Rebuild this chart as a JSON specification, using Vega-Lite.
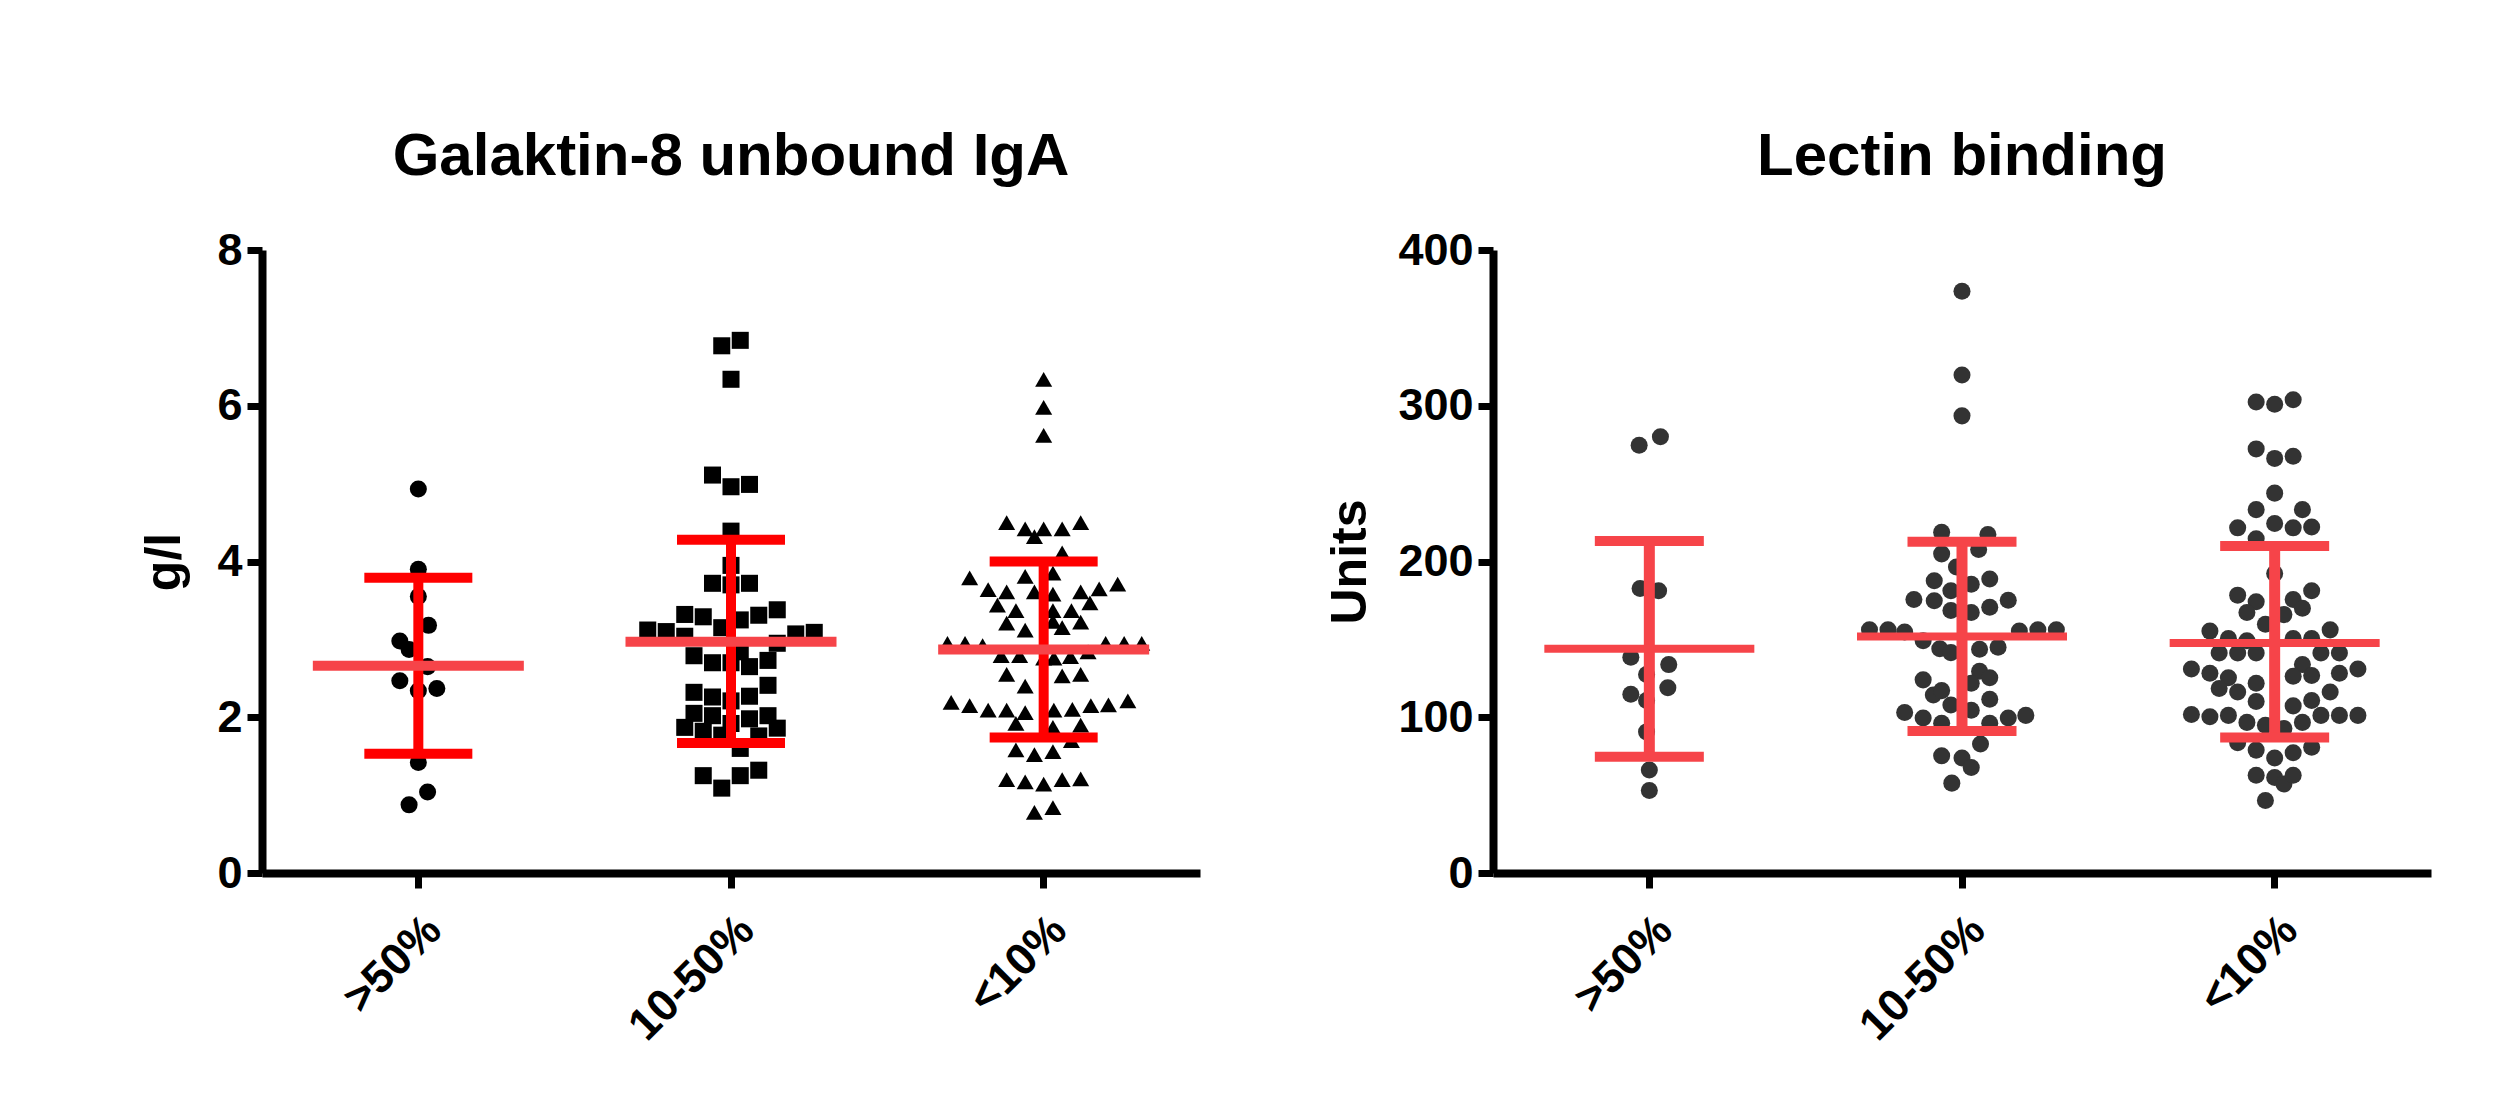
{
  "$schema": "https://vega.github.io/schema/vega-lite/v6.json",
  "background": "white",
  "padding": {"left": 139, "top": 127, "right": 5, "bottom": 5},
  "bounds": "flush",
  "spacing": 293,
  "config": {
    "font": "Liberation Sans",
    "view": {"stroke": null},
    "title": {"fontSize": 60, "fontWeight": "bold", "color": "black", "font": "Liberation Sans", "anchor": "middle", "offset": 40},
    "axis": {
      "grid": false,
      "domainColor": "black", "domainWidth": 8,
      "tickColor": "black", "tickWidth": 7, "tickSize": 15,
      "labelColor": "black", "labelFontSize": 45, "labelFontWeight": "bold", "labelFont": "Liberation Sans",
      "titleColor": "black", "titleFontSize": 50, "titleFontWeight": "bold", "titleFont": "Liberation Sans"
    },
    "axisY": {"labelPadding": 5, "titlePadding": 25, "format": "d"},
    "axisX": {"labelAngle": -45, "labelAlign": "right", "labelBaseline": "top", "labelPadding": 19, "title": null}
  },
  "datasets": {
    "gal": [
      {"g": ">50%", "v": 4.93, "s": 0}, {"g": ">50%", "v": 3.90, "s": 0}, {"g": ">50%", "v": 3.55, "s": 0},
      {"g": ">50%", "v": 3.18, "s": 0.55}, {"g": ">50%", "v": 2.98, "s": -1}, {"g": ">50%", "v": 2.87, "s": -0.5},
      {"g": ">50%", "v": 2.65, "s": 0.5}, {"g": ">50%", "v": 2.47, "s": -1}, {"g": ">50%", "v": 2.34, "s": 0},
      {"g": ">50%", "v": 2.37, "s": 1}, {"g": ">50%", "v": 1.42, "s": 0}, {"g": ">50%", "v": 1.04, "s": 0.5},
      {"g": ">50%", "v": 0.875, "s": -0.5},
      {"g": "10-50%", "v": 6.77, "s": -0.5}, {"g": "10-50%", "v": 6.84, "s": 0.5}, {"g": "10-50%", "v": 6.34, "s": 0},
      {"g": "10-50%", "v": 5.11, "s": -1}, {"g": "10-50%", "v": 4.96, "s": 0}, {"g": "10-50%", "v": 4.99, "s": 1},
      {"g": "10-50%", "v": 4.39, "s": 0}, {"g": "10-50%", "v": 3.95, "s": 0}, {"g": "10-50%", "v": 3.72, "s": -1},
      {"g": "10-50%", "v": 3.70, "s": 0}, {"g": "10-50%", "v": 3.72, "s": 1}, {"g": "10-50%", "v": 3.32, "s": -2.5},
      {"g": "10-50%", "v": 3.29, "s": -1.5}, {"g": "10-50%", "v": 3.15, "s": -0.5}, {"g": "10-50%", "v": 3.25, "s": 0.5},
      {"g": "10-50%", "v": 3.31, "s": 1.5}, {"g": "10-50%", "v": 3.38, "s": 2.5}, {"g": "10-50%", "v": 3.12, "s": -4.5},
      {"g": "10-50%", "v": 3.10, "s": -3.5}, {"g": "10-50%", "v": 3.04, "s": -2.5}, {"g": "10-50%", "v": 3.07, "s": 3.5},
      {"g": "10-50%", "v": 3.09, "s": 4.5}, {"g": "10-50%", "v": 2.95, "s": 2.5}, {"g": "10-50%", "v": 2.79, "s": -2},
      {"g": "10-50%", "v": 2.70, "s": -1}, {"g": "10-50%", "v": 2.84, "s": 0.5}, {"g": "10-50%", "v": 2.65, "s": 1},
      {"g": "10-50%", "v": 2.73, "s": 2}, {"g": "10-50%", "v": 2.70, "s": 0}, {"g": "10-50%", "v": 2.41, "s": 2},
      {"g": "10-50%", "v": 2.32, "s": -2}, {"g": "10-50%", "v": 2.26, "s": -1}, {"g": "10-50%", "v": 2.21, "s": 0},
      {"g": "10-50%", "v": 2.27, "s": 1}, {"g": "10-50%", "v": 2.05, "s": -2}, {"g": "10-50%", "v": 2.02, "s": -1},
      {"g": "10-50%", "v": 1.98, "s": 1}, {"g": "10-50%", "v": 2.02, "s": 2}, {"g": "10-50%", "v": 1.87, "s": -2.5},
      {"g": "10-50%", "v": 1.82, "s": -1.5}, {"g": "10-50%", "v": 1.92, "s": 0}, {"g": "10-50%", "v": 1.86, "s": 2.5},
      {"g": "10-50%", "v": 1.76, "s": 1.5}, {"g": "10-50%", "v": 1.77, "s": -0.5}, {"g": "10-50%", "v": 1.60, "s": 0.5},
      {"g": "10-50%", "v": 1.25, "s": -1.5}, {"g": "10-50%", "v": 1.25, "s": 0.5}, {"g": "10-50%", "v": 1.32, "s": 1.5},
      {"g": "10-50%", "v": 1.09, "s": -0.5},
      {"g": "<10%", "v": 6.34, "s": 0}, {"g": "<10%", "v": 5.98, "s": 0}, {"g": "<10%", "v": 5.62, "s": 0},
      {"g": "<10%", "v": 4.50, "s": -2}, {"g": "<10%", "v": 4.42, "s": -1}, {"g": "<10%", "v": 4.42, "s": 0},
      {"g": "<10%", "v": 4.42, "s": 1}, {"g": "<10%", "v": 4.50, "s": 2}, {"g": "<10%", "v": 4.32, "s": -0.5},
      {"g": "<10%", "v": 4.11, "s": 1}, {"g": "<10%", "v": 3.79, "s": -4}, {"g": "<10%", "v": 3.81, "s": -1},
      {"g": "<10%", "v": 3.85, "s": 0.5}, {"g": "<10%", "v": 3.64, "s": -3}, {"g": "<10%", "v": 3.61, "s": -2},
      {"g": "<10%", "v": 3.61, "s": -0.5}, {"g": "<10%", "v": 3.58, "s": 0.5}, {"g": "<10%", "v": 3.61, "s": 2},
      {"g": "<10%", "v": 3.65, "s": 3}, {"g": "<10%", "v": 3.71, "s": 4}, {"g": "<10%", "v": 3.44, "s": -2.5},
      {"g": "<10%", "v": 3.37, "s": -1.5}, {"g": "<10%", "v": 3.37, "s": 0.5}, {"g": "<10%", "v": 3.37, "s": 1.5},
      {"g": "<10%", "v": 3.47, "s": 2.5}, {"g": "<10%", "v": 3.21, "s": -2}, {"g": "<10%", "v": 3.12, "s": -1},
      {"g": "<10%", "v": 3.23, "s": 0.5}, {"g": "<10%", "v": 3.15, "s": 1}, {"g": "<10%", "v": 3.22, "s": 2},
      {"g": "<10%", "v": 2.95, "s": -5.2}, {"g": "<10%", "v": 2.95, "s": -4.25}, {"g": "<10%", "v": 2.92, "s": -3.3},
      {"g": "<10%", "v": 2.79, "s": -2.3}, {"g": "<10%", "v": 2.79, "s": -1.3}, {"g": "<10%", "v": 2.76, "s": 0},
      {"g": "<10%", "v": 2.76, "s": 0.55}, {"g": "<10%", "v": 2.78, "s": 1.45}, {"g": "<10%", "v": 2.84, "s": 2.4},
      {"g": "<10%", "v": 2.95, "s": 3.35}, {"g": "<10%", "v": 2.95, "s": 4.35}, {"g": "<10%", "v": 2.95, "s": 5.3},
      {"g": "<10%", "v": 2.55, "s": -2}, {"g": "<10%", "v": 2.53, "s": 1}, {"g": "<10%", "v": 2.55, "s": 2},
      {"g": "<10%", "v": 2.40, "s": -1}, {"g": "<10%", "v": 2.19, "s": -5}, {"g": "<10%", "v": 2.15, "s": -4},
      {"g": "<10%", "v": 2.09, "s": -3}, {"g": "<10%", "v": 2.09, "s": -2}, {"g": "<10%", "v": 2.06, "s": -1},
      {"g": "<10%", "v": 2.09, "s": 0.55}, {"g": "<10%", "v": 2.10, "s": 1.55}, {"g": "<10%", "v": 2.15, "s": 2.55},
      {"g": "<10%", "v": 2.16, "s": 3.5}, {"g": "<10%", "v": 2.21, "s": 4.55}, {"g": "<10%", "v": 1.92, "s": -1.5},
      {"g": "<10%", "v": 1.90, "s": 2}, {"g": "<10%", "v": 1.87, "s": 0.5}, {"g": "<10%", "v": 1.70, "s": 1.5},
      {"g": "<10%", "v": 1.58, "s": -1.5}, {"g": "<10%", "v": 1.52, "s": -0.5}, {"g": "<10%", "v": 1.56, "s": 0.5},
      {"g": "<10%", "v": 1.20, "s": -2}, {"g": "<10%", "v": 1.17, "s": -1}, {"g": "<10%", "v": 1.14, "s": 0},
      {"g": "<10%", "v": 1.20, "s": 1}, {"g": "<10%", "v": 1.21, "s": 2}, {"g": "<10%", "v": 0.78, "s": -0.5},
      {"g": "<10%", "v": 0.84, "s": 0.5}
    ],
    "gal_stats": [
      {"g": ">50%", "mean": 2.66, "lo": 1.53, "hi": 3.79},
      {"g": "10-50%", "mean": 2.97, "lo": 1.67, "hi": 4.28},
      {"g": "<10%", "mean": 2.87, "lo": 1.74, "hi": 4.00}
    ],
    "lec": [
      {"g": ">50%", "v": 280.1, "s": 0.6}, {"g": ">50%", "v": 274.6, "s": -0.55}, {"g": ">50%", "v": 182.6, "s": -0.5},
      {"g": ">50%", "v": 181.2, "s": 0.5}, {"g": ">50%", "v": 138.5, "s": -1}, {"g": ">50%", "v": 133.8, "s": 1.05},
      {"g": ">50%", "v": 127.4, "s": -0.15}, {"g": ">50%", "v": 119.0, "s": 1}, {"g": ">50%", "v": 114.8, "s": -1},
      {"g": ">50%", "v": 110.7, "s": -0.15}, {"g": ">50%", "v": 90.6, "s": -0.15}, {"g": ">50%", "v": 66.1, "s": 0},
      {"g": ">50%", "v": 53.0, "s": 0},
      {"g": "10-50%", "v": 373.5, "s": 0}, {"g": "10-50%", "v": 319.7, "s": 0}, {"g": "10-50%", "v": 293.5, "s": 0},
      {"g": "10-50%", "v": 218.8, "s": -1.1}, {"g": "10-50%", "v": 217.4, "s": 1.4}, {"g": "10-50%", "v": 204.9, "s": -1.1},
      {"g": "10-50%", "v": 207.7, "s": 0.9}, {"g": "10-50%", "v": 196.5, "s": -0.3}, {"g": "10-50%", "v": 187.6, "s": -1.5},
      {"g": "10-50%", "v": 188.7, "s": 1.5}, {"g": "10-50%", "v": 185.4, "s": 0.5}, {"g": "10-50%", "v": 181.2, "s": -0.6},
      {"g": "10-50%", "v": 175.6, "s": -2.6}, {"g": "10-50%", "v": 174.8, "s": -1.5}, {"g": "10-50%", "v": 175.1, "s": 2.5},
      {"g": "10-50%", "v": 168.6, "s": -0.6}, {"g": "10-50%", "v": 167.2, "s": 0.5}, {"g": "10-50%", "v": 170.6, "s": 1.5},
      {"g": "10-50%", "v": 156.1, "s": -5}, {"g": "10-50%", "v": 156.1, "s": -4}, {"g": "10-50%", "v": 154.7, "s": -3.1},
      {"g": "10-50%", "v": 155.3, "s": 3.1}, {"g": "10-50%", "v": 156.1, "s": 4.1}, {"g": "10-50%", "v": 156.1, "s": 5.1},
      {"g": "10-50%", "v": 149.1, "s": -2.1}, {"g": "10-50%", "v": 144.0, "s": -1.2}, {"g": "10-50%", "v": 141.5, "s": -0.6},
      {"g": "10-50%", "v": 143.6, "s": 0.95}, {"g": "10-50%", "v": 145.0, "s": 1.95}, {"g": "10-50%", "v": 129.6, "s": 0.95},
      {"g": "10-50%", "v": 125.4, "s": 1.5}, {"g": "10-50%", "v": 121.8, "s": 0.5}, {"g": "10-50%", "v": 124.0, "s": -2.1},
      {"g": "10-50%", "v": 114.3, "s": -1.55}, {"g": "10-50%", "v": 117.1, "s": -1.1}, {"g": "10-50%", "v": 111.5, "s": 1.5},
      {"g": "10-50%", "v": 107.9, "s": -0.6}, {"g": "10-50%", "v": 104.5, "s": 0.5}, {"g": "10-50%", "v": 103.1, "s": -3.1},
      {"g": "10-50%", "v": 99.5, "s": -2.1}, {"g": "10-50%", "v": 101.2, "s": 3.45}, {"g": "10-50%", "v": 99.5, "s": 2.5},
      {"g": "10-50%", "v": 96.2, "s": -1.1}, {"g": "10-50%", "v": 96.2, "s": 1.5}, {"g": "10-50%", "v": 82.8, "s": 1},
      {"g": "10-50%", "v": 75.3, "s": -1.1}, {"g": "10-50%", "v": 73.9, "s": 0}, {"g": "10-50%", "v": 67.7, "s": 0.5},
      {"g": "10-50%", "v": 57.7, "s": -0.55},
      {"g": "<10%", "v": 302.4, "s": -1}, {"g": "<10%", "v": 301.0, "s": 0}, {"g": "<10%", "v": 303.8, "s": 1},
      {"g": "<10%", "v": 272.3, "s": -1}, {"g": "<10%", "v": 266.2, "s": 0}, {"g": "<10%", "v": 267.6, "s": 1},
      {"g": "<10%", "v": 243.9, "s": 0}, {"g": "<10%", "v": 233.3, "s": -1}, {"g": "<10%", "v": 233.3, "s": 1.5},
      {"g": "<10%", "v": 221.6, "s": -2}, {"g": "<10%", "v": 224.4, "s": 0}, {"g": "<10%", "v": 221.6, "s": 1},
      {"g": "<10%", "v": 222.2, "s": 2}, {"g": "<10%", "v": 214.6, "s": -1}, {"g": "<10%", "v": 192.3, "s": 0},
      {"g": "<10%", "v": 178.4, "s": -2}, {"g": "<10%", "v": 181.2, "s": 2}, {"g": "<10%", "v": 174.2, "s": -1},
      {"g": "<10%", "v": 175.6, "s": 1}, {"g": "<10%", "v": 167.2, "s": -1.5}, {"g": "<10%", "v": 170.0, "s": 1.5},
      {"g": "<10%", "v": 165.9, "s": 0.5}, {"g": "<10%", "v": 159.7, "s": -0.5}, {"g": "<10%", "v": 155.3, "s": -3.5},
      {"g": "<10%", "v": 156.1, "s": 3}, {"g": "<10%", "v": 150.5, "s": -2.5}, {"g": "<10%", "v": 149.1, "s": -1.5},
      {"g": "<10%", "v": 150.5, "s": 1}, {"g": "<10%", "v": 150.5, "s": 2}, {"g": "<10%", "v": 141.3, "s": -3},
      {"g": "<10%", "v": 141.3, "s": -2}, {"g": "<10%", "v": 141.3, "s": -1}, {"g": "<10%", "v": 141.3, "s": 2.5},
      {"g": "<10%", "v": 141.3, "s": 3.5}, {"g": "<10%", "v": 131.0, "s": -4.5}, {"g": "<10%", "v": 128.2, "s": -3.5},
      {"g": "<10%", "v": 125.4, "s": -2.5}, {"g": "<10%", "v": 133.8, "s": 1.5}, {"g": "<10%", "v": 126.8, "s": 2},
      {"g": "<10%", "v": 126.3, "s": 1}, {"g": "<10%", "v": 128.2, "s": 3.5}, {"g": "<10%", "v": 131.0, "s": 4.5},
      {"g": "<10%", "v": 118.5, "s": -3}, {"g": "<10%", "v": 116.2, "s": -2}, {"g": "<10%", "v": 121.8, "s": -1},
      {"g": "<10%", "v": 116.2, "s": 3}, {"g": "<10%", "v": 110.1, "s": -1}, {"g": "<10%", "v": 107.3, "s": 1},
      {"g": "<10%", "v": 110.7, "s": 2}, {"g": "<10%", "v": 101.7, "s": -4.5}, {"g": "<10%", "v": 100.3, "s": -3.5},
      {"g": "<10%", "v": 101.2, "s": -2.5}, {"g": "<10%", "v": 96.7, "s": -1.5}, {"g": "<10%", "v": 94.8, "s": -0.5},
      {"g": "<10%", "v": 92.8, "s": 0.5}, {"g": "<10%", "v": 96.7, "s": 1.5}, {"g": "<10%", "v": 101.2, "s": 2.5},
      {"g": "<10%", "v": 101.2, "s": 3.5}, {"g": "<10%", "v": 101.2, "s": 4.5}, {"g": "<10%", "v": 83.6, "s": -2},
      {"g": "<10%", "v": 78.9, "s": -1}, {"g": "<10%", "v": 73.9, "s": 0}, {"g": "<10%", "v": 77.2, "s": 1},
      {"g": "<10%", "v": 80.8, "s": 2}, {"g": "<10%", "v": 62.7, "s": -1}, {"g": "<10%", "v": 61.3, "s": 0},
      {"g": "<10%", "v": 57.1, "s": 0.5}, {"g": "<10%", "v": 62.7, "s": 1}, {"g": "<10%", "v": 46.5, "s": -0.5}
    ],
    "lec_stats": [
      {"g": ">50%", "mean": 144.0, "lo": 74.7, "hi": 213.2},
      {"g": "10-50%", "mean": 151.9, "lo": 91.1, "hi": 212.7},
      {"g": "<10%", "mean": 147.7, "lo": 87.0, "hi": 209.9}
    ]
  },
  "hconcat": [
    {
      "width": 938, "height": 623,
      "title": "Galaktin-8 unbound IgA",
      "layer": [
        {
          "data": {"name": "gal"},
          "mark": {"type": "point", "filled": true, "opacity": 1, "color": "black", "size": 290},
          "encoding": {
            "x": {"field": "g", "type": "nominal", "scale": {"domain": [">50%", "10-50%", "<10%"], "paddingInner": 0, "paddingOuter": 0}},
            "xOffset": {"field": "s", "type": "quantitative", "scale": {"domain": [-8.45, 8.45]}},
            "y": {"field": "v", "type": "quantitative", "scale": {"domain": [0, 8], "nice": false}, "axis": {"values": [0, 2, 4, 6, 8], "title": "g/l", "titlePadding": 27}},
            "shape": {"field": "g", "type": "nominal", "scale": {"domain": [">50%", "10-50%", "<10%"], "range": ["circle", "square", "triangle-up"]}, "legend": null}
          }
        },
        {
          "data": {"name": "gal_stats"},
          "mark": {"type": "rule", "color": "#ff0000", "strokeWidth": 10},
          "encoding": {
            "x": {"field": "g", "type": "nominal"},
            "y": {"field": "lo", "type": "quantitative"},
            "y2": {"field": "hi"}
          }
        },
        {
          "data": {"name": "gal_stats"},
          "mark": {"type": "tick", "color": "#ff0000", "size": 108, "thickness": 10, "opacity": 1},
          "encoding": {"x": {"field": "g", "type": "nominal"}, "y": {"field": "hi", "type": "quantitative"}}
        },
        {
          "data": {"name": "gal_stats"},
          "mark": {"type": "tick", "color": "#ff0000", "size": 108, "thickness": 10, "opacity": 1},
          "encoding": {"x": {"field": "g", "type": "nominal"}, "y": {"field": "lo", "type": "quantitative"}}
        },
        {
          "data": {"name": "gal_stats"},
          "mark": {"type": "tick", "color": "#f64449", "size": 211, "thickness": 10, "opacity": 1},
          "encoding": {"x": {"field": "g", "type": "nominal"}, "y": {"field": "mean", "type": "quantitative"}}
        }
      ]
    },
    {
      "width": 938, "height": 623,
      "title": "Lectin binding",
      "layer": [
        {
          "data": {"name": "lec"},
          "mark": {"type": "point", "shape": "circle", "filled": true, "opacity": 1, "color": "#333333", "size": 290},
          "encoding": {
            "x": {"field": "g", "type": "nominal", "scale": {"domain": [">50%", "10-50%", "<10%"], "paddingInner": 0, "paddingOuter": 0}},
            "xOffset": {"field": "s", "type": "quantitative", "scale": {"domain": [-8.45, 8.45]}},
            "y": {"field": "v", "type": "quantitative", "scale": {"domain": [0, 400], "nice": false}, "axis": {"values": [0, 100, 200, 300, 400], "title": "Units", "titlePadding": 22}}
          }
        },
        {
          "data": {"name": "lec_stats"},
          "mark": {"type": "rule", "color": "#f64449", "strokeWidth": 11},
          "encoding": {
            "x": {"field": "g", "type": "nominal"},
            "y": {"field": "lo", "type": "quantitative"},
            "y2": {"field": "hi"}
          }
        },
        {
          "data": {"name": "lec_stats"},
          "mark": {"type": "tick", "color": "#f64449", "size": 109, "thickness": 10, "opacity": 1},
          "encoding": {"x": {"field": "g", "type": "nominal"}, "y": {"field": "hi", "type": "quantitative"}}
        },
        {
          "data": {"name": "lec_stats"},
          "mark": {"type": "tick", "color": "#f64449", "size": 109, "thickness": 10, "opacity": 1},
          "encoding": {"x": {"field": "g", "type": "nominal"}, "y": {"field": "lo", "type": "quantitative"}}
        },
        {
          "data": {"name": "lec_stats"},
          "mark": {"type": "tick", "color": "#f64449", "size": 210, "thickness": 8, "opacity": 1},
          "encoding": {"x": {"field": "g", "type": "nominal"}, "y": {"field": "mean", "type": "quantitative"}}
        }
      ]
    }
  ]
}
